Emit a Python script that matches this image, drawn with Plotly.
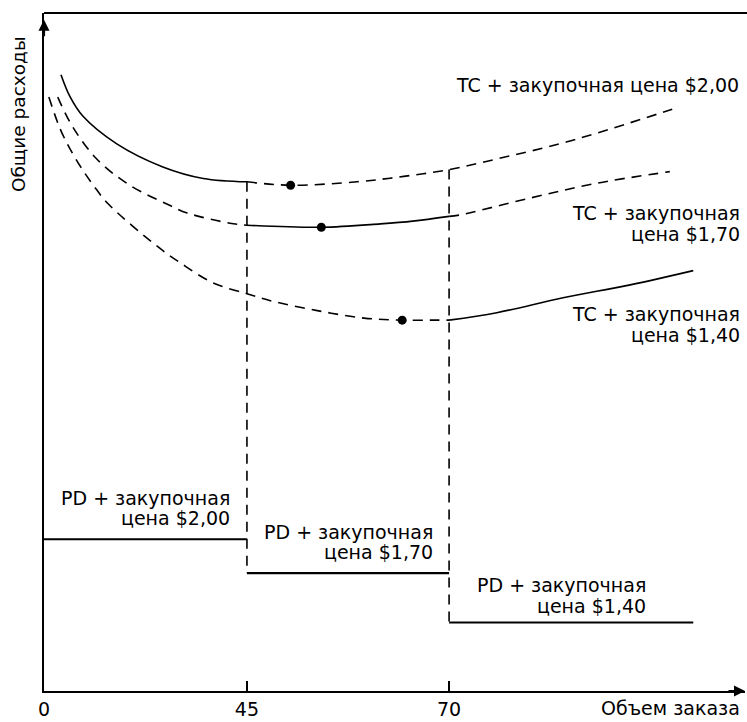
import plotly.graph_objects as go

W, H = 747, 722
L, R, T, B = 44, 2, 13, 25

# ---- data (order quantity, total cost in arbitrary units) ----
q_tc200_solid = [22.0, 23.1, 24.7, 28.9, 34.6, 39.6, 45.0]
c_tc200_solid = [90.9, 87.7, 84.8, 80.7, 77.3, 75.6, 75.1]
q_tc200_dash = [45.0, 50.4, 58.6, 64.4, 70.0, 76.0, 84.6, 97.6]
c_tc200_dash = [75.1, 74.6, 75.1, 75.9, 76.9, 78.5, 81.0, 85.8]

q_tc170_dash1 = [21.6, 23.4, 26.4, 30.5, 35.5, 37.6, 42.9, 45.0]
c_tc170_dash1 = [87.6, 83.3, 78.5, 74.6, 71.6, 70.5, 69.0, 68.7]
q_tc170_solid = [45.0, 54.2, 61.5, 65.5, 70.0]
c_tc170_solid = [68.7, 68.4, 68.9, 69.3, 70.0]
q_tc170_dash2 = [70.0, 71.3, 80.0, 88.3, 97.3]
c_tc170_dash2 = [70.0, 70.2, 72.7, 74.9, 76.6]

q_tc140_dash = [20.5, 21.9, 23.1, 24.6, 26.0, 27.8, 33.9, 36.7, 40.8, 45.0, 47.8, 53.7, 59.5, 64.2, 68.5, 70.0]
c_tc140_dash = [87.6, 82.9, 80.0, 77.0, 74.6, 71.9, 65.6, 63.2, 60.2, 58.6, 57.6, 56.1, 55.0, 54.7, 54.7, 54.7]
q_tc140_solid = [70.0, 75.9, 84.1, 92.4, 100.2]
c_tc140_solid = [54.7, 55.8, 58.0, 59.9, 62.0]

eoq_q = [50.4, 54.2, 64.2]
eoq_c = [74.6, 68.4, 54.7]

price_breaks = [45, 70]
q_start, q_end = 19.9, 100.2
pd_cost = [22.4, 17.4, 10.1]   # PD + purchase price $2.00, $1.70, $1.40

tick_vals = [q_start, 45, 70]
tick_text = ["0", "45", "70"]
x_max = 106.6
y_max = 100

FONT = "DejaVu Sans, Liberation Sans, Arial, sans-serif"
DASH = "10px,7px"
LW = 1.6
FS = 19

fig = go.Figure()

def line(x, y, dash=None, width=LW):
    fig.add_trace(go.Scatter(x=x, y=y, mode="lines", line_shape="spline",
                             line=dict(color="black", width=width, dash=dash),
                             hoverinfo="skip", showlegend=False, cliponaxis=False))

def straight(x, y, dash=None, width=LW):
    fig.add_trace(go.Scatter(x=x, y=y, mode="lines",
                             line=dict(color="black", width=width, dash=dash),
                             hoverinfo="skip", showlegend=False, cliponaxis=False))

line(q_tc200_solid, c_tc200_solid)
line(q_tc200_dash, c_tc200_dash, DASH)
line(q_tc170_dash1, c_tc170_dash1, DASH)
line(q_tc170_solid, c_tc170_solid)
line(q_tc170_dash2, c_tc170_dash2, DASH)
line(q_tc140_dash, c_tc140_dash, DASH)
line(q_tc140_solid, c_tc140_solid)

# PD steps
straight([q_start, price_breaks[0]], [pd_cost[0]] * 2, width=2)
straight([price_breaks[0], price_breaks[1]], [pd_cost[1]] * 2, width=2.2)
straight([price_breaks[1], q_end], [pd_cost[2]] * 2, width=2.2)

# vertical dashed lines at price breaks
straight([price_breaks[0]] * 2, [c_tc200_solid[-1], pd_cost[1]], DASH)
straight([price_breaks[1]] * 2, [c_tc200_dash[4], pd_cost[2]], DASH)

fig.add_trace(go.Scatter(x=eoq_q, y=eoq_c, mode="markers",
                         marker=dict(color="black", size=9),
                         hoverinfo="skip", showlegend=False, cliponaxis=False))

pw, ph = W - L - R, H - T - B
def px(x):
    return (x - L) / pw
def py(y):
    return (H - B - y) / ph

def label(text, x_right, y_center, size=FS):
    fig.add_annotation(text=text, xref="paper", yref="paper", x=px(x_right), y=py(y_center),
                       xanchor="right", yanchor="middle", showarrow=False,
                       font=dict(family=FONT, size=size, color="black"))

label("TC + закупочная цена $2,00", 741, 86)
label("TC + закупочная", 742, 215)
label("цена $1,70", 742, 236)
label("TC + закупочная", 742, 317)
label("цена $1,40", 742, 338)

label("PD + закупочная", 232, 502)
label("цена $2,00", 232, 522)
label("PD + закупочная", 435, 537)
label("цена $1,70", 435, 557)
label("PD + закупочная", 648, 590)
label("цена $1,40", 648, 611)

label("Объем заказа", 742, 714)

fig.add_annotation(text="Общие расходы", xref="paper", yref="paper",
                   x=px(18), y=py(115), textangle=-90, showarrow=False,
                   xanchor="center", yanchor="middle",
                   font=dict(family=FONT, size=18.5, color="black"))

# axis arrowheads
fig.add_annotation(x=q_start, y=y_max - 1, ax=0, ay=18, text="", showarrow=True,
                   arrowhead=2, arrowsize=1, arrowwidth=2.2, arrowcolor="black")
fig.add_annotation(x=x_max, y=0, ax=-18, ay=0, text="", showarrow=True,
                   arrowhead=2, arrowsize=1, arrowwidth=2.2, arrowcolor="black")

# top frame line
fig.add_shape(type="line", xref="paper", yref="paper", x0=0, x1=1.003, y0=1, y1=1,
              line=dict(color="black", width=2))

fig.update_layout(
    width=W, height=H, margin=dict(l=L, r=R, t=T, b=B),
    paper_bgcolor="white", plot_bgcolor="white",
    xaxis=dict(range=[q_start, x_max], showgrid=False, zeroline=False,
               showline=True, linecolor="black", linewidth=2.2,
               tickvals=tick_vals, ticktext=tick_text, ticks="inside",
               ticklen=10, tickwidth=1.5, tickcolor="black",
               tickfont=dict(family=FONT, size=FS, color="black")),
    yaxis=dict(range=[0, y_max], showgrid=False, zeroline=False,
               showline=True, linecolor="black", linewidth=2.2,
               showticklabels=False, ticks=""),
)

fig.write_html("out.html", config={"displayModeBar": False, "staticPlot": True},
               post_script="document.body.style.margin='0';document.body.style.overflow='hidden';")
